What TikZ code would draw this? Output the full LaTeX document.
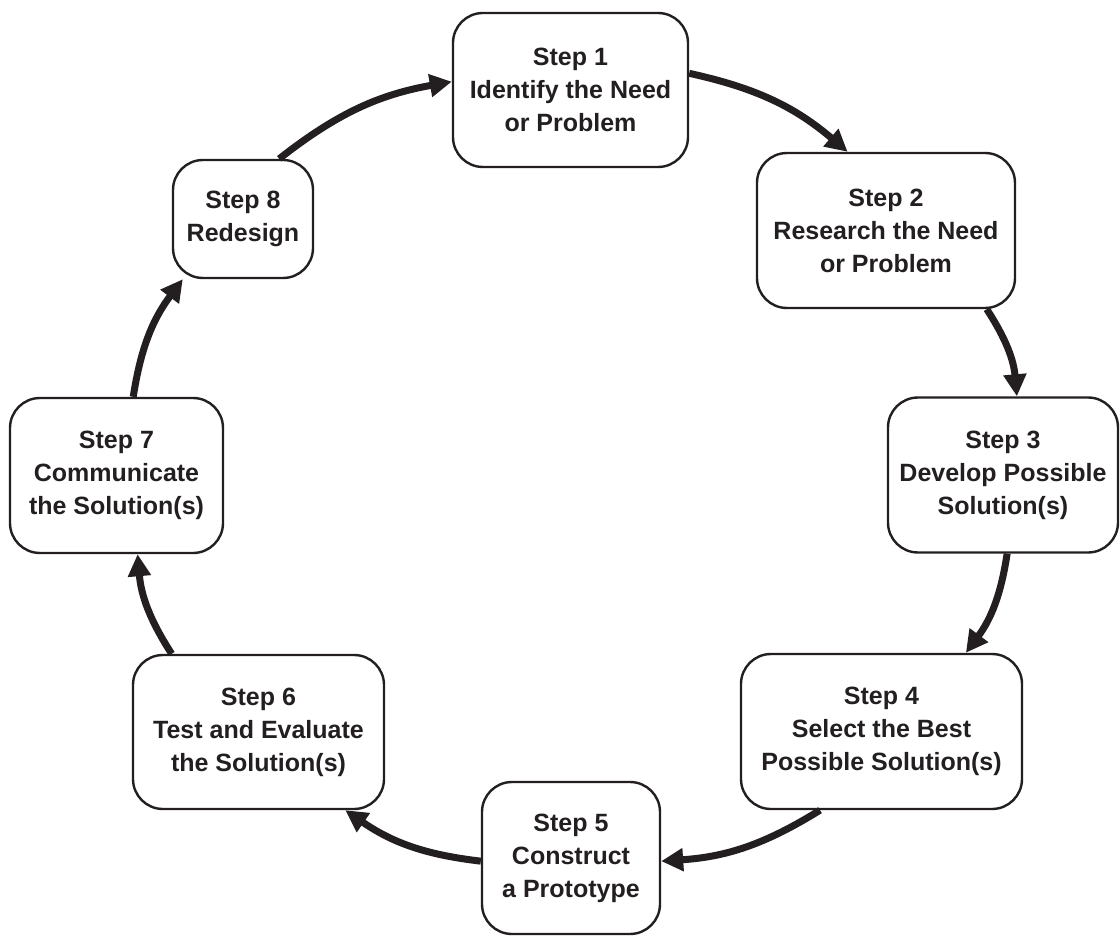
\documentclass[tikz,border=0pt]{standalone}
\usepackage{fontspec}
\setmainfont{Liberation Sans}
\usetikzlibrary{arrows.meta}
\definecolor{ink}{RGB}{35,31,32}
\tikzset{
  stepbox/.style={draw=ink, line width=2.4pt, rounded corners=30pt, align=center,
    text=ink, inner sep=0pt, minimum height=154pt,
    font=\fontsize{25}{33}\selectfont\bfseries},
  flow/.style={draw=ink, line width=7pt, -{Triangle[length=22pt,width=22pt]}, bend left=14}
}

\begin{document}
\begin{tikzpicture}[x=1pt, y=1pt]
  \useasboundingbox (0,0) rectangle (1120,-936);
  % the eight steps, clockwise from the top
  \node[stepbox, minimum width=235pt] (s1) at (570.5,-90) {Step 1\\Identify the Need\\or Problem};
  \node[stepbox, minimum width=258pt, minimum height=155pt] (s2) at (886,-230.5) {Step 2\\Research the Need\\or Problem};
  \node[stepbox, minimum width=230pt, minimum height=155pt] (s3) at (1003,-475) {Step 3\\Develop Possible\\Solution(s)};
  \node[stepbox, minimum width=281pt, minimum height=155pt] (s4) at (881.5,-731.5) {Step 4\\Select the Best\\Possible Solution(s)};
  \node[stepbox, minimum width=178pt, minimum height=152pt] (s5) at (571,-858) {Step 5\\Construct\\a Prototype};
  \node[stepbox, minimum width=251pt] (s6) at (258.5,-732) {Step 6\\Test and Evaluate\\the Solution(s)};
  \node[stepbox, minimum width=213pt, minimum height=155pt] (s7) at (116.5,-475.5) {Step 7\\Communicate\\the Solution(s)};
  \node[stepbox, minimum width=140pt, minimum height=118pt] (s8) at (243,-219) {Step 8\\Redesign};
  % arrows round the cycle
  \draw[flow] (s1.8) to (s2.116);
  \draw[flow] (s2.-38) to (s3.80);
  \draw[flow] (s3.-87) to (s4.43);
  \draw[flow] (s4.-128) to (s5.-2);
  \draw[flow] (s5.-178) to (s6.-42);
  \draw[flow] (s6.138) to (s7.-75);
  \draw[flow] (s7.78) to (s8.-135);
  \draw[flow] (s8.59) to (s1.176);
\end{tikzpicture}
\end{document}
